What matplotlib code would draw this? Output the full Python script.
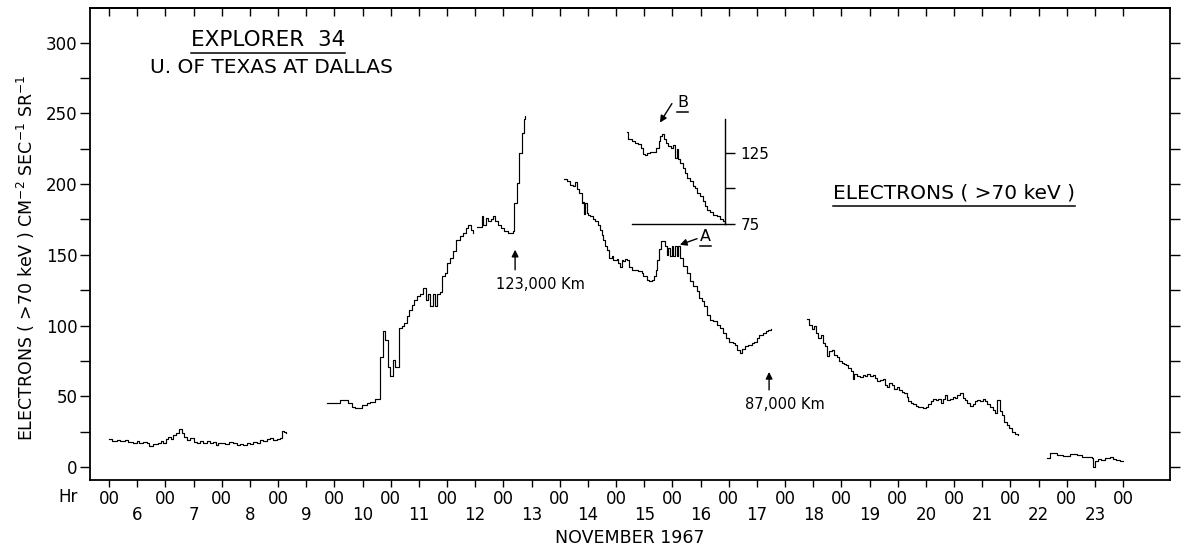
import numpy as np
import matplotlib
matplotlib.use("Agg")
import matplotlib.pyplot as plt
from matplotlib.lines import Line2D

plt.rcParams["font.family"] = ["DejaVu Sans"]
plt.rcParams["mathtext.fontset"] = "dejavusans"

# time axis: hours since 1967 Nov 6, 00 UT
seg1_hr = [0, 1.1, 3.3, 4.7, 6.8, 8.2, 10.4, 11.8, 12.9, 14.3, 16.1, 17.2, 18.9, 21, 22.2,
           23.1, 24.3, 25.3, 26.3, 27.1, 28.5, 30, 31, 32, 33.4, 34.5, 36, 37.3, 38.8,
           40.2, 41.6, 43, 44.4, 45.6, 46.6, 47.6, 49.4, 51.3, 52.7, 54.4, 55.8, 57.2,
           58.6, 60.1, 61.5, 62.9, 64.3, 65.7, 67.2, 68.6, 70, 71.4, 72.9, 73.6, 74.6, 75.4]
seg1_flux = [19.6, 18.6, 18.9, 18.4, 18.9, 17.9, 17.2, 18.4, 16.8, 17.9, 16.8, 14.9, 16.3,
             17.2, 18.6, 17.2, 19.6, 21.4, 19.6, 22.6, 23.8, 26.7, 23.8, 21, 18.9, 20.3,
             17.9, 17.2, 18.6, 17.2, 18.4, 16.8, 17.9, 15.6, 17.2, 16.8, 16.3, 17.9, 16.8,
             15.6, 16.3, 15.6, 16.8, 16.3, 17.9, 17.2, 18.9, 18.4, 19.6, 20.3, 18.9, 20,
             20.3, 25.7, 25, 24.3]

seg2_hr = [92.7, 98.4, 101.8, 103.4, 104.8, 107.6, 109.8, 111.2, 113.3, 115.4, 116.6,
           117.6, 119, 119.7, 120.9, 121.8, 123.5, 124.7, 125.7, 126.8, 127.9, 129, 129.9,
           131.1, 132.5, 133.9, 135, 136, 136.7, 138.2, 138.9, 139.6, 141, 142, 143.1,
           143.9, 145.3, 146.7, 147.7, 149.5, 150.9, 152, 153.1, 154.2, 154.9]
seg2_flux = [45.5, 47.4, 45, 42.7, 41.5, 44, 45, 46, 48, 78, 95.8, 90, 71, 64, 75.8, 71,
             98, 99.5, 101.8, 106.4, 111, 114.7, 118, 120.6, 122.3, 126.5, 118, 122, 114,
             122, 113.5, 122, 123.5, 134.8, 137, 144, 148, 152.5, 160.8, 163, 165.5, 169,
             171.4, 167.8, 165.5]

seg3_hr = [156.6, 158.8, 159.5, 160.6, 161.6, 162.6, 163.7, 164.4, 165.6, 167, 168.4,
           170.1, 172.3, 172.7, 173.7, 174.8, 175.8, 176.8, 177.2]
seg3_flux = [170, 177.3, 171.4, 176, 173.7, 175, 177.3, 173.7, 171.4, 169, 166.6, 165.5,
             166.6, 186.7, 200.9, 222, 236.3, 245.7, 248]

seg4_hr = [193.8, 195, 196.4, 197.8, 198.5, 199.5, 200.4, 201.4, 202, 202.5, 202.9, 203.5,
           203.9, 204.9, 206.1, 207, 208.4, 209.2, 209.9, 210.6, 211.3, 212.3, 213, 214.2,
           214.8, 216.3, 217, 217.7, 218.4, 219.1, 219.8, 220.8, 221.5, 222.7, 224.1,
           225.5, 226.9, 227.6, 229.1, 230.2, 231.2, 232.2, 233, 233.6, 234.4, 235.2,
           236.1, 236.9, 237.6, 238.3, 239, 239.7, 240.4, 241.1, 241.8, 242.5, 243.2,
           244.7, 246.1, 247.5, 248.9, 250.4, 251.5, 252.5, 253.5, 254.6, 256, 257.5,
           258.9, 260.3, 261.7, 262.8, 264.2, 265.7, 266.7, 267.7, 268.8, 269.5, 270.9,
           272.4, 273.8, 274.8, 275.9, 277, 278.7, 279.9, 280.9, 281.9]
seg4_flux = [203.3, 202, 199.7, 198.5, 201.4, 196.2, 193.8, 186.7, 187, 179.2, 186.7,
             179.6, 178.5, 177.3, 175, 173.7, 171.4, 167.8, 164.3, 160.8, 156, 153.7,
             147.8, 149, 146.6, 147, 144.3, 141.4, 146.6, 145.4, 147, 146.6, 141.4, 139.5,
             139, 138.3, 137.2, 134.8, 132.4, 131.2, 132.4, 134.8, 139.5, 146.6, 154.2,
             159.6, 159.6, 156.5, 150.1, 155, 149.4, 156, 149, 156.5, 149, 156.5, 147.8,
             141.8, 137.2, 131.2, 127.7, 124.2, 119.5, 117.1, 113.5, 107.6, 104.1, 102.9,
             100.6, 98.2, 94.7, 91.1, 88.7, 87.6, 86.4, 82.9, 80.5, 83.4, 85.2, 86.4, 87.6,
             88.7, 91.1, 93.5, 94.7, 95.8, 97, 97.5]

seg5_hr = [297.5, 298.3, 299.3, 300.3, 301.2, 302.2, 303.2, 304, 305.2, 306, 306.9, 307.9,
           308.8, 310, 311.1, 312.1, 313.1, 314, 314.9, 316, 316.8, 317.4, 318.5, 319.9,
           321.1, 322.1, 323.1, 324.2, 325.3, 326.3, 327.3, 328.4, 329.6, 330.6, 331.6,
           332.4, 333.4, 334.4, 335.5, 336.7, 337.7, 338.7, 339.8, 340.5, 341.5, 342.6,
           343.8, 344.8, 345.8, 346.9, 348, 349, 350, 351.2, 352.3, 353.3, 354.3, 355.4,
           356.3, 357.1, 358.3, 359.4, 360.4, 361.4, 362.5, 363.7, 364.7, 365.6, 366.8,
           367.9, 368.9, 369.9, 371, 372.2, 373.2, 374.2, 375.3, 376.4, 377.4, 378.1, 379,
           379.6, 380.4, 381.3, 382.4, 383.5, 384.5, 385.9, 387.4]
seg5_flux = [104.6, 100.6, 97.5, 99.4, 94.7, 91.1, 93.5, 87.6, 85.2, 78.6, 81.7, 82.9,
             79.3, 77.7, 74.6, 73.4, 72.9, 72.2, 69.9, 68.2, 62.1, 65.9, 64.4, 63.5, 65.2,
             64, 65.9, 64.4, 65.2, 62.8, 61.1, 61.6, 62.1, 58.1, 56.4, 59.3, 58.1, 55, 56.4,
             54.5, 53.3, 52.2, 49.4, 46.3, 45.1, 44.6, 43.2, 42.7, 42.3, 41.5, 42.7, 44.6,
             46.3, 48, 47.4, 48, 45.5, 48, 51, 47.4, 48, 49.8, 48.6, 51, 52.2, 48.6, 47.4,
             45.1, 43.2, 44.6, 46.3, 47.4, 46.3, 48, 46.3, 44.6, 42.7, 40.4, 38, 47.4, 47.4,
             39.9, 36.8, 32.1, 29.7, 27.4, 25, 23.4, 22.7]

seg6_hr = [399.8, 400.8, 403.7, 406.5, 409.3, 412.2, 414.3, 416.4, 418.6, 419.3, 420,
           421.4, 422.8, 424.3, 426.4, 427.8, 429.2, 430.6, 432]
seg6_flux = [6.6, 9.7, 8.5, 8, 9.2, 8.3, 7.3, 6.8, 6.1, -0.2, 4.5, 5.9, 5, 6.1, 6.8, 5.4,
             5, 4.2, 4]

# expanded view around event A/B
inset_hr = [220.8, 221.3, 222.7, 224.1, 225.5, 226.5, 227.4, 228.4, 229.1, 230.5, 232.2,
            233.1, 234.1, 234.8, 235.5, 236.5, 237.3, 238.3, 239.3, 240.2, 241.2, 241.9,
            242.6, 243.3, 244.4, 245.4, 246.4, 247.5, 248.7, 249.7, 250.7, 251.8, 252.9,
            253.9, 254.9, 256.1, 257.5, 258.9, 260.3, 261.5, 262.5]
inset_flux = [139.7, 134.5, 133.3, 132.1, 131, 128.6, 123.9, 123.2, 124.6, 125.5, 125.5,
              128.6, 133.3, 136.8, 138, 134.5, 132.1, 129.7, 128.6, 130.4, 121.5, 127.4,
              120.3, 118, 114.4, 110.9, 107.4, 104.9, 101.9, 100.3, 96.7, 94.3, 90.8, 87.7,
              84.9, 83, 81.4, 80.2, 78.3, 76.6, 75.5]

days = [str(d) for d in range(6, 24)]

fig = plt.figure(figsize=(11.81, 5.48), dpi=100)
ax = fig.add_axes([0.0762, 0.1241, 0.9145, 0.8613])


def underlined(x, y, s, gap=3, **kw):
    """Put text at (x, y) and rule a line just under it."""
    t = ax.text(x, y, s, **kw)
    fig.canvas.draw()
    bb = t.get_window_extent()
    inv = fig.transFigure.inverted()
    (x0, y0), (x1, _) = inv.transform([(bb.x0, bb.y0 - gap), (bb.x1, bb.y0 - gap)])
    fig.add_artist(Line2D([x0, x1], [y0, y0], color="black", lw=1.1))
    return t


segments = [(seg1_hr, seg1_flux), (seg2_hr, seg2_flux), (seg3_hr, seg3_flux),
            (seg4_hr, seg4_flux), (seg5_hr, seg5_flux), (seg6_hr, seg6_flux)]
for hr, flux in segments:
    ax.plot(hr, flux, drawstyle="steps-post", color="black", lw=0.85)

ax.set_xlim(-8.1, 452)
ax.set_ylim(-9.2, 324.5)

for s in ax.spines.values():
    s.set_linewidth(1.3)

# x axis: 00 at each midnight, day number at noon
ax.set_xticks(np.arange(0, 433, 24), labels=["00"] * 19)
ax.set_xticks(np.arange(12, 433, 24), labels=days, minor=True)
ax.tick_params(axis="x", which="both", direction="out", length=5, width=1, labelsize=12)
ax.tick_params(axis="x", which="major", pad=2)
ax.tick_params(axis="x", which="minor", pad=14)

top = ax.secondary_xaxis("top")
top.set_xticks(np.arange(0, 433, 12))
top.tick_params(direction="in", length=6, width=1, labeltop=False)
top.spines["top"].set_linewidth(1.3)

ax.set_yticks(np.arange(0, 301, 50))
ax.set_yticks(np.arange(0, 301, 25), minor=True)
ax.tick_params(axis="y", which="both", direction="out", length=7, width=1,
               labelsize=12, pad=2, right=True)

ax.text(-0.0204, -0.036, "Hr", transform=ax.transAxes, ha="center", va="center", fontsize=12)
ax.text(0.5, -0.123, "NOVEMBER 1967", transform=ax.transAxes, ha="center", va="center",
        fontsize=12.5)
fig.text(0.022, 0.53, r"ELECTRONS ( >70 keV ) CM$^{-2}$ SEC$^{-1}$ SR$^{-1}$",
         rotation=90, ha="center", va="center", fontsize=12.5)

arrow = dict(arrowstyle="-|>", color="black", lw=1.0, mutation_scale=10, shrinkA=0, shrinkB=0)
ax.annotate("", xy=(173, 153.6), xytext=(173, 139.4), arrowprops=arrow)
ax.text(183.6, 129, "123,000 Km", ha="center", va="center", fontsize=10.5)
ax.annotate("", xy=(281.2, 67.2), xytext=(281.2, 54.5), arrowprops=arrow)
ax.text(288, 43.9, "87,000 Km", ha="center", va="center", fontsize=10.5)
ax.annotate("", xy=(243.2, 157.1), xytext=(250.5, 161.4), arrowprops=arrow)
ax.annotate("", xy=(234.7, 243.5), xytext=(239.8, 256.9), arrowprops=arrow)

# inset on its own scale
ins = ax.inset_axes([222.7, 172.1, 39.8, 74.1], transform=ax.transData)
ins.plot(inset_hr, inset_flux, drawstyle="steps-post", color="black", lw=0.85, clip_on=False)
ins.set_xlim(222.7, 262.5)
ins.set_ylim(75, 149.1)
ins.patch.set_alpha(0)
ins.spines["left"].set_visible(False)
ins.spines["top"].set_visible(False)
ins.spines["right"].set_linewidth(1.0)
ins.spines["bottom"].set_linewidth(1.0)
ins.set_xticks([])
ins.yaxis.tick_right()
ins.set_yticks([75, 100, 125], labels=["75", "", "125"])
ins.tick_params(axis="y", direction="out", length=7, width=1, labelsize=11, pad=4)

ax.text(0.168, 0.873, "U. OF TEXAS AT DALLAS", transform=ax.transAxes,
        ha="center", va="center", fontsize=14.5)
underlined(0.165, 0.932, "EXPLORER  34", transform=ax.transAxes,
           ha="center", va="center", fontsize=15.5)
underlined(0.800, 0.608, "ELECTRONS ( >70 keV )", transform=ax.transAxes,
           ha="center", va="center", fontsize=14.5)
underlined(254, 163, "A", gap=2, ha="center", va="center", fontsize=11.5)
underlined(244.3, 258, "B", gap=2, ha="center", va="center", fontsize=11.5)

fig.savefig("out.png", dpi=100)
